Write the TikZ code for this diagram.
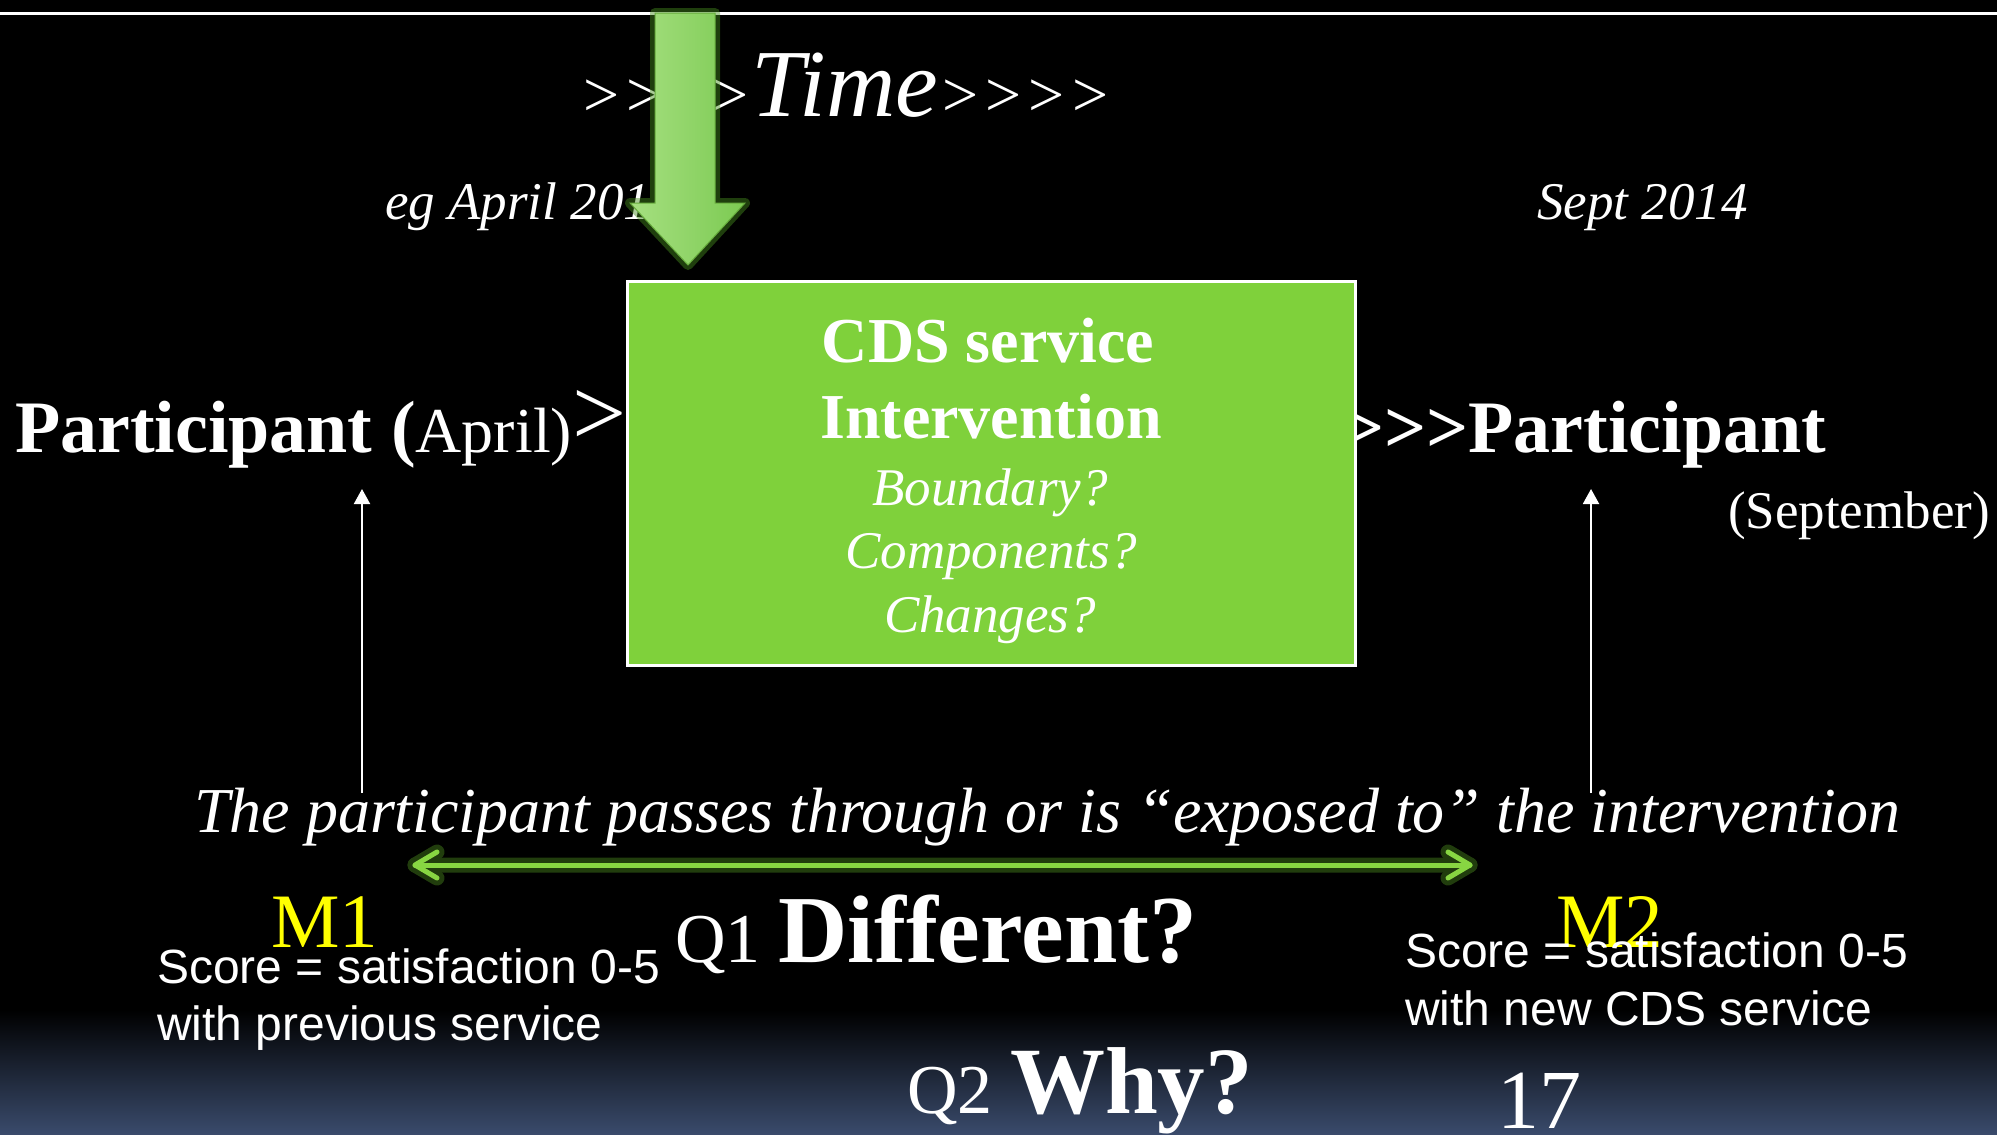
\documentclass[tikz,border=0pt]{standalone}
\usepackage{fontspec}
\setmainfont{Liberation Serif}
\newfontfamily\arialfont{Liberation Sans}
\usetikzlibrary{arrows.meta,calc}

\definecolor{boxgreen}{RGB}{127,209,59}
\definecolor{arrowgreen}{RGB}{150,218,106}
\definecolor{arrowgreendk}{RGB}{124,202,82}
\definecolor{linkgreen}{RGB}{136,214,66}
\definecolor{glowgreen}{RGB}{70,140,30}
\definecolor{haloline}{RGB}{96,176,40}
\definecolor{slatebottom}{RGB}{58,75,108}
\definecolor{mtext}{RGB}{255,255,0}

\newcommand{\fsz}[1]{\fontsize{#1}{#1}\selectfont}
% separate chevrons so that the text mapping keeps them as single ">"
\newcommand{\gtsign}{>\kern0pt}

\tikzset{
  txt/.style={inner sep=0pt, outer sep=0pt, text=white, anchor=base west},
  ctxt/.style={inner sep=0pt, outer sep=0pt, text=white, anchor=base},
  uparrow/.style={draw=white, line width=2pt, -{Triangle[width=16pt,length=15pt]}},
  spanline/.style={line width=#1, line cap=round, line join=round},
}

\begin{document}
\begin{tikzpicture}[x=1pt,y=-1pt]
  % background
  \fill[black] (0,0) rectangle (1997,1135);
  \shade[top color=black, bottom color=slatebottom] (0,1010) rectangle (1997,1135);
  \useasboundingbox (0,0) rectangle (1997,1135);

  % rule across the top
  \draw[white, line width=3pt] (0,13) -- (1997,13);

  % time line labels
  \node[txt] (time) at (579,116) {\itshape\fsz{64}\gtsign\gtsign\gtsign\gtsign\fsz{96}Time\fsz{64}\gtsign\gtsign\gtsign\gtsign};
  \node[txt] (april) at (385,219) {\itshape\fsz{53}eg April 2014};
  \node[txt] (sept) at (1537,219) {\itshape\fsz{53}Sept 2014};

  % participant labels
  \node[txt] (pleft) at (15,452) {\fsz{74}\bfseries Participant (\mdseries\fsz{64}April)\raisebox{7pt}{\fsz{96}>}};
  \node[txt] (pright) at (1342,452) {\fsz{74}\bfseries \gtsign\gtsign\gtsign Participant};
  \node[txt] (sepmonth) at (1728,528) {\fsz{53}(September)};

  % intervention box
  \node[draw=white, line width=3pt, fill=boxgreen, minimum width=728pt, minimum height=384pt, inner sep=0pt] (box) at (991,473) {};
  \node[ctxt] (l1) at (988,362) {\fsz{64}\bfseries CDS service};
  \node[ctxt] (l2) at (991,438) {\fsz{64}\bfseries Intervention};
  \node[ctxt] (l3) at (990,505) {\fsz{53}\itshape Boundary?};
  \node[ctxt] (l4) at (991,568) {\fsz{53}\itshape Components?};
  \node[ctxt] (l5) at (990,632) {\fsz{53}\itshape Changes?};

  % green arrow coming down into the box
  \begin{scope}[transparency group, opacity=0.45]
    \path[fill=glowgreen, draw=glowgreen, line width=10pt, line join=round]
      (655,13) -- (715,13) -- (715,203) -- (745,203) -- (688,265) -- (630,203) -- (655,203) -- cycle;
  \end{scope}
  \shade[left color=arrowgreen!85!white, right color=arrowgreendk, draw=glowgreen!60!arrowgreen, line width=1pt]
    (655,13) -- (715,13) -- (715,203) -- (745,203) -- (688,265) -- (630,203) -- (655,203) -- cycle;

  % measurement arrows
  \coordinate (m1foot) at (362,793);
  \coordinate (m1head) at (362,489);
  \coordinate (m2foot) at (1591,793);
  \coordinate (m2head) at (1591,489);
  \draw[uparrow] (m1foot) -- (m1head);
  \draw[uparrow] (m2foot) -- (m2head);

  \node[txt] (sentence) at (194,832) {\fsz{64}\itshape The participant passes through or is “exposed to” the intervention};

  % exposure span: a line with open chevrons at both ends, with a soft halo
  \coordinate (spanL) at (415,865);
  \coordinate (spanR) at (1470,865);
  \begin{scope}[transparency group, opacity=0.35]
    \draw[spanline=15pt, draw=haloline] (spanL) -- (spanR);
    \draw[spanline=15pt, draw=haloline] ($(spanL)+(22,-13)$) -- (spanL) -- ($(spanL)+(22,13)$);
    \draw[spanline=15pt, draw=haloline] ($(spanR)+(-22,-13)$) -- (spanR) -- ($(spanR)+(-22,13)$);
  \end{scope}
  \draw[spanline=5pt, draw=linkgreen] (spanL) -- (spanR);
  \draw[spanline=5pt, draw=linkgreen] ($(spanL)+(22,-13)$) -- (spanL) -- ($(spanL)+(22,13)$);
  \draw[spanline=5pt, draw=linkgreen] ($(spanR)+(-22,-13)$) -- (spanR) -- ($(spanR)+(-22,13)$);

  % measurements
  \node[txt, text=mtext] (m1) at (271,947) {\fsz{77}M1};
  \node[txt, text=mtext] (m2) at (1556,947) {\fsz{77}M2};
  \node[txt] (s1a) at (157,983) {\arialfont\fsz{48}Score = satisfaction 0-5};
  \node[txt] (s1b) at (157,1040) {\arialfont\fsz{48}with previous service};
  \node[txt] (s2a) at (1405,967) {\arialfont\fsz{48}Score = satisfaction 0-5};
  \node[txt] (s2b) at (1405,1025) {\arialfont\fsz{48}with new CDS service};

  % questions
  \node[txt] (q1) at (675,962) {\fsz{70}Q1 \fsz{96}\bfseries Different?};
  \node[txt] (q2) at (907,1113) {\fsz{70}Q2 \fsz{95}\bfseries Why?};
  \node[txt] (pagenum) at (1497,1128) {\fsz{84}17};
\end{tikzpicture}
\end{document}
